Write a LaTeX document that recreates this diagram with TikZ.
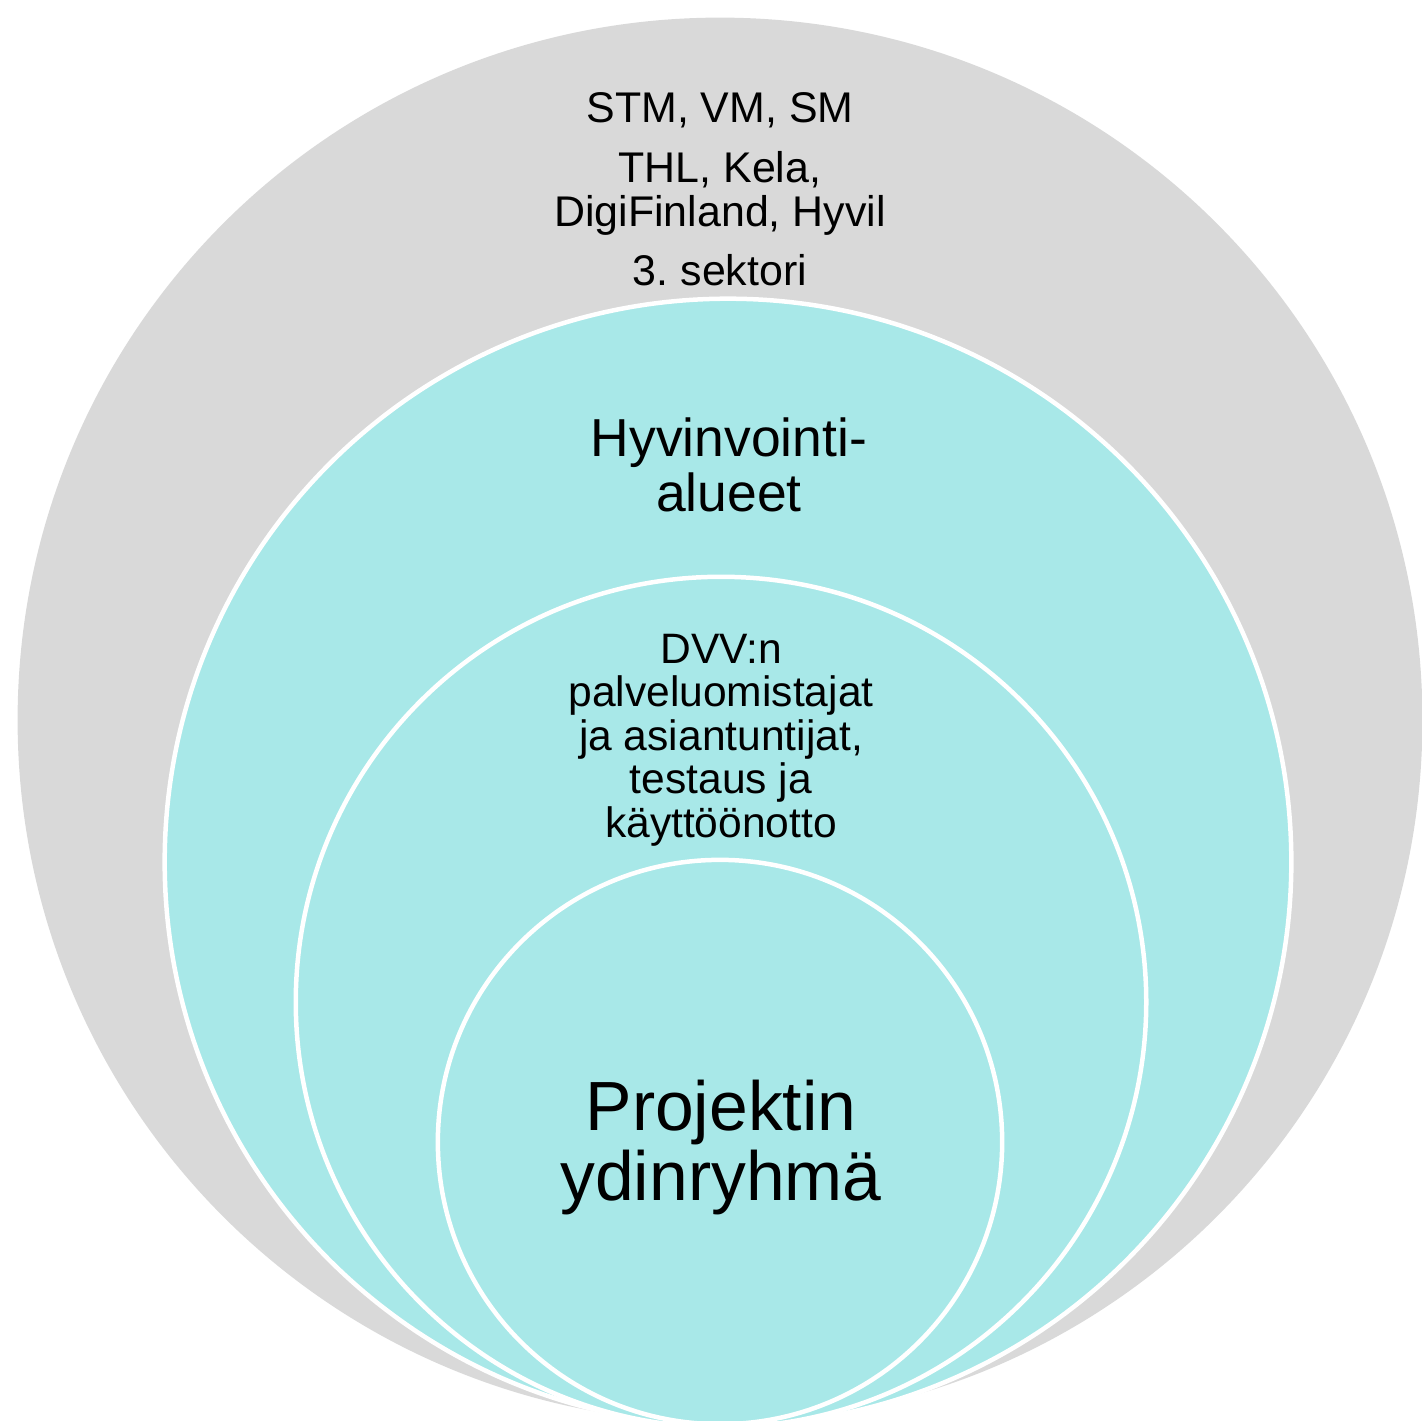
\documentclass[tikz,border=0pt]{standalone}
\usepackage{fontspec}
\setmainfont{Liberation Sans}
\usepackage{xcolor}

\definecolor{ringgray}{HTML}{D9D9D9}
\definecolor{ringteal}{HTML}{A8E8E8}

\begin{document}
\begin{tikzpicture}[x=0.01cm,y=-0.01cm,
		ring/.style={circle,fill=ringteal,draw=white,line width=0.045cm,inner sep=0pt},
		label text/.style={align=center,inner sep=0pt,anchor=north}]
			\useasboundingbox (0,0) rectangle (1422,1420);
			% rings, from the outside in
			\node[circle,fill=ringgray,inner sep=0pt,minimum size=14.04cm] (sidosryhmat) at (720,720) {};
			\node[ring,minimum size=11.26cm] (alueet) at (728,862) {};
			\node[ring,minimum size=8.5cm] (dvv) at (721,1002) {};
			\node[ring,minimum size=5.64cm] (ydin) at (720,1142) {};
			% texts
			\node[label text,font=\fontsize{12.2pt}{12.5pt}\selectfont] (sidosteksti) at (720,92)
			{
				STM, VM, SM\\[4.4pt]
				THL, Kela,\\
				DigiFinland, Hyvil\\[4.4pt]
				3.\ sektori
			};
			\node[label text,font=\fontsize{15.2pt}{15.6pt}\selectfont] (alueteksti) at (729,417)
			{
				Hyvinvointi-\\
				alueet
			};
			\node[label text,font=\fontsize{12.1pt}{12.4pt}\selectfont] (dvvteksti) at (721,633)
			{
				DVV:n\\
				palveluomistajat\\
				ja asiantuntijat,\\
				testaus ja\\
				käyttöönotto
			};
			\node[label text,font=\fontsize{19.8pt}{19.9pt}\selectfont] (ydinteksti) at (721,1079)
			{
				Projektin\\
				ydinryhmä
			};
		\end{tikzpicture}
\end{document}
